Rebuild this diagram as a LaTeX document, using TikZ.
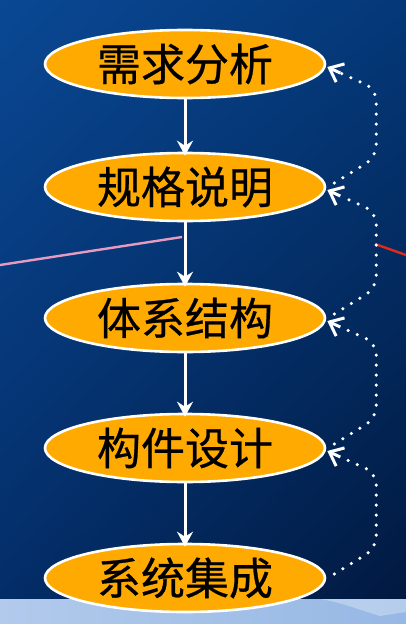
\documentclass[tikz,border=0pt]{standalone}
\usepackage{fontspec}
\newfontfamily\cjk[FakeBold=0.6]{Noto Sans CJK SC}
\usetikzlibrary{shapes.geometric,arrows.meta,shadings}
\definecolor{bgTL}{RGB}{10,72,148}
\definecolor{bgTR}{RGB}{4,56,120}
\definecolor{bgBL}{RGB}{3,44,102}
\definecolor{bgBR}{RGB}{1,24,62}
\definecolor{orangefill}{RGB}{255,170,0}
\definecolor{skyA}{RGB}{178,202,236}
\definecolor{skyB}{RGB}{150,184,228}
\definecolor{pinkline}{RGB}{232,154,192}
\definecolor{redline}{RGB}{224,42,26}
\tikzset{
  stage/.style={ellipse, draw=white, line width=2.6pt, fill=orangefill,
    minimum width=280pt, minimum height=68pt, inner sep=0pt,
    font=\cjk\fontsize{44}{44}\selectfont, text=black},
  vline/.style={draw=white, line width=3pt, shorten >=-4pt,
    -{Stealth[length=15pt,width=16pt,inset=5pt]}},
  backline/.style={draw=white, line width=3.5pt, line cap=round,
    dash pattern=on 0pt off 10pt, rounded corners=12pt},
  backtip/.style={draw=white, line width=3pt, solid,
    -{Straight Barb[length=12pt,width=20pt,line width=3pt]}},
}
\begin{document}
\begin{tikzpicture}[x=1pt,y=-1pt]
\useasboundingbox (0,0) rectangle (406,624);
\shade[upper left=bgTL, upper right=bgTR, lower left=bgBL, lower right=bgBR]
  (0,0) rectangle (406,624);
\shade[left color=skyA, right color=skyB] (0,599) rectangle (406,624);
\fill[white, opacity=0.3] (320,599) -- (406,599) -- (406,612) -- (380,616) .. controls (360,610) and (340,602) .. (320,599) -- cycle;
% decorative lines
\coordinate (pa) at (0,265);
\coordinate (pb) at (182,237);
\coordinate (ra) at (375,244);
\coordinate (rb) at (406,255);
\draw[pinkline, line width=2.4pt] (pa) -- (pb);
\draw[redline, line width=2.4pt] (ra) -- (rb);
% stages
\node[stage] (e1) at (185,64)  {需求分析};
\node[stage] (e2) at (185,187) {规格说明};
\node[stage] (e3) at (185,318) {体系结构};
\node[stage] (e4) at (185,448) {构件设计};
\node[stage] (e5) at (185,578) {系统集成};
% forward arrows
\draw[vline] (e1) -- (e2);
\draw[vline] (e2) -- (e3);
\draw[vline] (e3) -- (e4);
\draw[vline] (e4) -- (e5);
% feedback arrows
\draw[backline] ([shift={(8,-4)}]e2.east) -- ++(42,-26) -- ([shift={(50,25)}]e1.east) -- ([shift={(14,9)}]e1.east);
\draw[backtip] ([shift={(14,9)}]e1.east) -- ([shift={(1,3)}]e1.east);
\draw[backline] ([shift={(8,-4)}]e3.east) -- ++(42,-26) -- ([shift={(50,25)}]e2.east) -- ([shift={(14,9)}]e2.east);
\draw[backtip] ([shift={(14,9)}]e2.east) -- ([shift={(1,3)}]e2.east);
\draw[backline] ([shift={(8,-4)}]e4.east) -- ++(42,-26) -- ([shift={(50,25)}]e3.east) -- ([shift={(14,9)}]e3.east);
\draw[backtip] ([shift={(14,9)}]e3.east) -- ([shift={(1,3)}]e3.east);
\draw[backline] ([shift={(8,-4)}]e5.east) -- ++(42,-26) -- ([shift={(50,25)}]e4.east) -- ([shift={(14,9)}]e4.east);
\draw[backtip] ([shift={(14,9)}]e4.east) -- ([shift={(1,3)}]e4.east);
\end{tikzpicture}
\end{document}
